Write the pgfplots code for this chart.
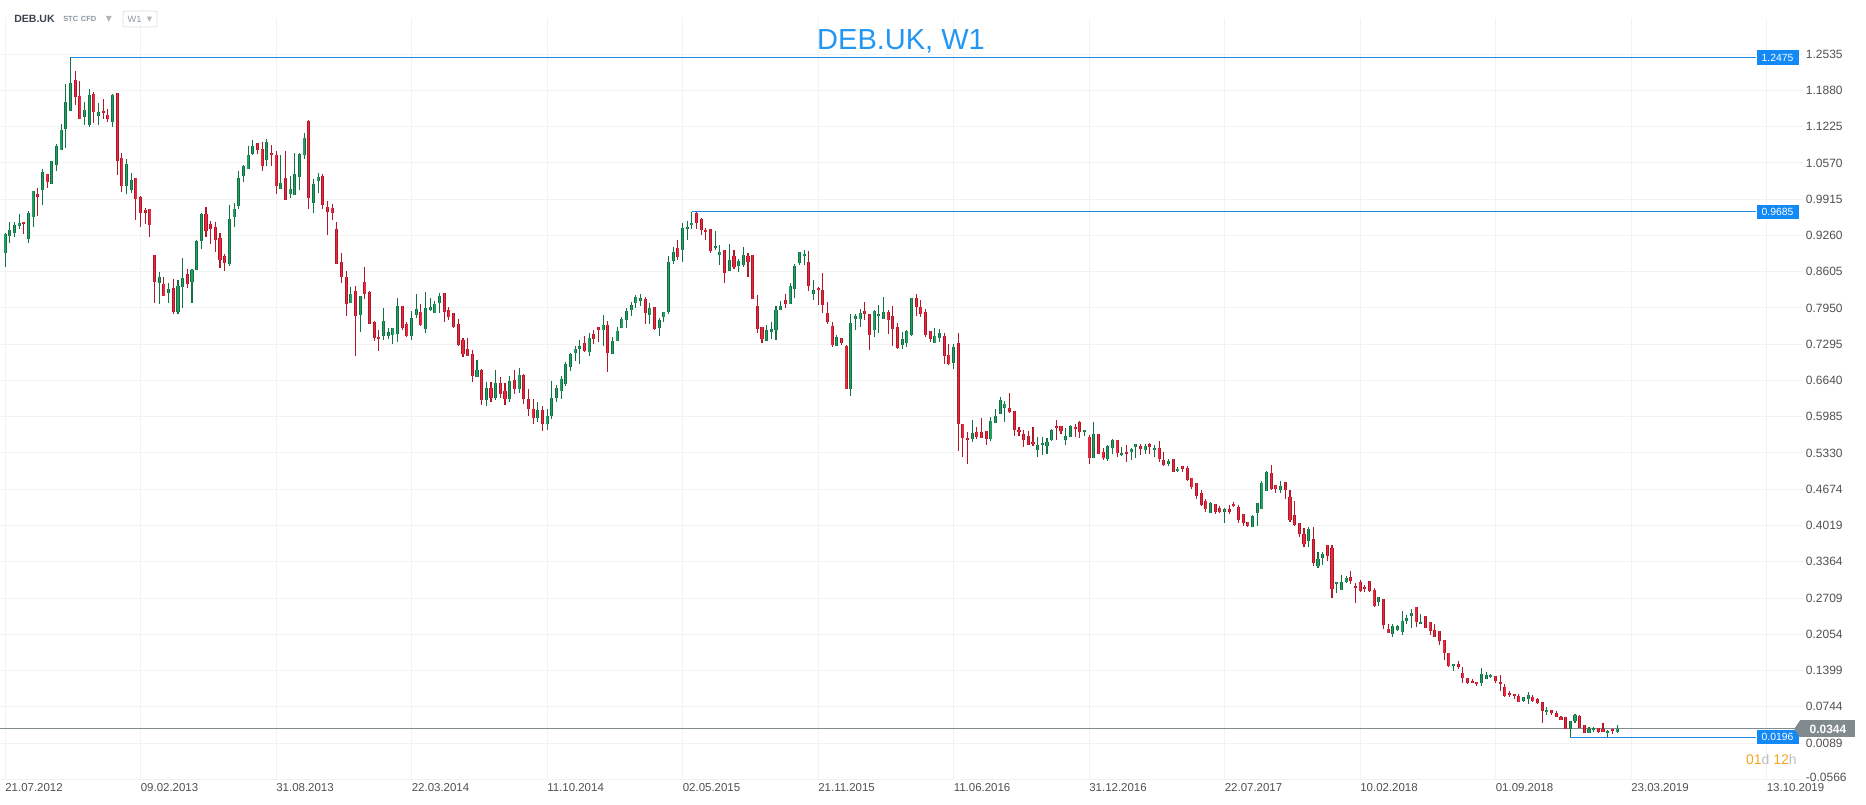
\documentclass[border=0pt]{standalone}
\usepackage{pgfplots}
\usepackage{pgfplotstable}
\pgfplotsset{compat=1.18}
\usepackage{fontspec}
\setmainfont{Liberation Sans}
\newfontfamily\dejavu{DejaVu Sans}
\definecolor{gline}{RGB}{18,112,66}
\definecolor{gfill}{RGB}{34,158,100}
\definecolor{rline}{RGB}{176,24,42}
\definecolor{rfill}{RGB}{230,42,64}
\definecolor{pblue}{RGB}{30,136,229}
\definecolor{pbox}{RGB}{18,137,245}
\definecolor{pgray}{RGB}{128,138,143}
\definecolor{gridc}{RGB}{242,242,242}
\definecolor{ticktxt}{RGB}{80,80,80}
\definecolor{titleblue}{RGB}{33,150,243}
\definecolor{hdr}{RGB}{60,68,78}
\definecolor{hdrlight}{RGB}{140,150,160}
\definecolor{tri}{RGB}{175,180,185}
\definecolor{boxc}{RGB}{222,222,222}
\definecolor{orangec}{RGB}{245,166,35}
\definecolor{lgray}{RGB}{190,190,190}

% weekly candles, w = weeks since 21.07.2012
\pgfplotstableread[row sep=\\]{
w O H L C \\
0 0.8938 0.9311 0.8697 0.9287 \\
1 0.9257 0.9504 0.9131 0.9360 \\
2 0.9311 0.9504 0.9227 0.9444 \\
3 0.9426 0.9649 0.9384 0.9486 \\
5 0.9191 0.9697 0.9131 0.9667 \\
6 0.9588 1.0058 0.9420 1.0058 \\
8 1.0076 1.0461 0.9805 1.0401 \\
10 1.0196 1.0600 1.0184 1.0600 \\
11 1.0527 1.0913 1.0431 1.0871 \\
12 1.0798 1.1274 1.0798 1.1166 \\
13 1.1178 1.2002 1.0834 1.1671 \\
14 1.1503 1.2475 1.1503 1.2008 \\
17 1.1394 1.1671 1.1250 1.1521 \\
18 1.1250 1.1906 1.1214 1.1792 \\
20 1.1412 1.1653 1.1262 1.1485 \\
23 1.1304 1.1822 1.1226 1.1798 \\
26 1.0148 1.0642 1.0004 1.0545 \\
27 1.0076 1.0389 1.0034 1.0257 \\
33 0.8397 0.8601 0.8017 0.8505 \\
35 0.8216 0.8397 0.8035 0.8288 \\
37 0.7885 0.8457 0.7837 0.8342 \\
38 0.8324 0.8848 0.7945 0.8487 \\
40 0.8415 0.8649 0.8035 0.8643 \\
41 0.8643 0.9179 0.8637 0.9155 \\
42 0.9155 0.9673 0.9010 0.9649 \\
48 0.8740 0.9811 0.8703 0.9552 \\
49 0.9588 0.9841 0.9420 0.9733 \\
50 0.9787 1.0425 0.9733 1.0293 \\
51 1.0329 1.0533 1.0220 1.0509 \\
52 1.0455 1.0877 1.0455 1.0708 \\
53 1.0726 1.0985 1.0708 1.0871 \\
56 1.0618 1.1003 1.0521 1.0943 \\
59 1.0094 1.0708 1.0094 1.0202 \\
61 1.0016 1.0329 0.9931 1.0094 \\
62 0.9986 1.0744 0.9986 1.0365 \\
63 1.0311 1.0744 1.0076 1.0726 \\
64 1.0707 1.1104 1.0635 1.1014 \\
66 0.9840 1.0274 0.9660 1.0183 \\
67 1.0237 1.0382 1.0021 1.0310 \\
74 0.8046 0.8323 0.8034 0.8197 \\
76 0.7817 0.8161 0.7510 0.8161 \\
81 0.7438 0.7944 0.7366 0.7709 \\
82 0.7438 0.7583 0.7384 0.7510 \\
83 0.7456 0.7583 0.7294 0.7583 \\
84 0.7474 0.8124 0.7330 0.7980 \\
87 0.7438 0.7890 0.7366 0.7763 \\
88 0.7817 0.8197 0.7763 0.7926 \\
90 0.7565 0.8233 0.7492 0.7944 \\
91 0.7914 0.8124 0.7902 0.7962 \\
92 0.7854 0.8070 0.7854 0.8016 \\
93 0.8034 0.8215 0.7854 0.8161 \\
101 0.6698 0.7005 0.6698 0.6824 \\
103 0.6280 0.6620 0.6180 0.6500 \\
105 0.6320 0.6820 0.6280 0.6590 \\
108 0.6300 0.6716 0.6250 0.6626 \\
110 0.6480 0.6860 0.6420 0.6734 \\
114 0.5960 0.6250 0.5880 0.6100 \\
116 0.5850 0.6120 0.5740 0.6000 \\
117 0.6000 0.6626 0.5950 0.6320 \\
118 0.6320 0.6550 0.6250 0.6500 \\
119 0.6456 0.6721 0.6312 0.6661 \\
120 0.6583 0.6974 0.6547 0.6938 \\
121 0.6890 0.7137 0.6818 0.7119 \\
122 0.7131 0.7263 0.6992 0.7203 \\
123 0.7215 0.7365 0.6944 0.7263 \\
125 0.7161 0.7492 0.7088 0.7402 \\
128 0.7546 0.7817 0.7269 0.7636 \\
130 0.7113 0.7420 0.7113 0.7347 \\
131 0.7347 0.7606 0.7347 0.7528 \\
132 0.7582 0.7781 0.7582 0.7745 \\
133 0.7727 0.7943 0.7594 0.7889 \\
134 0.7907 0.8052 0.7799 0.7997 \\
135 0.8034 0.8178 0.7943 0.8142 \\
136 0.8082 0.8196 0.7991 0.8124 \\
138 0.7817 0.8034 0.7654 0.7943 \\
140 0.7582 0.7763 0.7438 0.7727 \\
141 0.7781 0.7871 0.7691 0.7871 \\
142 0.7871 0.8888 0.7835 0.8774 \\
143 0.8792 0.9045 0.8738 0.8955 \\
145 0.8991 0.9478 0.8774 0.9388 \\
146 0.9370 0.9515 0.9171 0.9406 \\
147 0.9442 0.9685 0.9370 0.9478 \\
152 0.9027 0.9334 0.8997 0.9063 \\
153 0.8900 0.9081 0.8720 0.8955 \\
155 0.8611 0.9099 0.8611 0.8810 \\
157 0.8702 0.8828 0.8593 0.8792 \\
158 0.8720 0.9045 0.8684 0.8900 \\
163 0.7347 0.7636 0.7347 0.7546 \\
164 0.7510 0.7691 0.7383 0.7564 \\
165 0.7546 0.7979 0.7365 0.7907 \\
166 0.7907 0.8070 0.7907 0.7979 \\
168 0.8016 0.8395 0.8016 0.8341 \\
169 0.8286 0.8738 0.8124 0.8702 \\
170 0.8756 0.8955 0.8720 0.8955 \\
171 0.8882 0.8991 0.8720 0.8919 \\
173 0.8196 0.8449 0.8088 0.8268 \\
178 0.7257 0.7456 0.7257 0.7420 \\
181 0.6481 0.7835 0.6366 0.7673 \\
182 0.7745 0.7835 0.7546 0.7799 \\
183 0.7745 0.7926 0.7601 0.7853 \\
186 0.7546 0.7908 0.7420 0.7890 \\
187 0.7799 0.7998 0.7492 0.7835 \\
188 0.7745 0.8142 0.7745 0.7871 \\
192 0.7276 0.7510 0.7203 0.7384 \\
193 0.7312 0.7546 0.7239 0.7528 \\
194 0.7456 0.8124 0.7438 0.8124 \\
199 0.7312 0.7583 0.7312 0.7438 \\
200 0.7402 0.7564 0.7330 0.7492 \\
203 0.6950 0.7294 0.6842 0.7239 \\
207 0.5578 0.5921 0.5524 0.5686 \\
211 0.5578 0.5975 0.5542 0.5903 \\
212 0.5867 0.6120 0.5867 0.5993 \\
213 0.6029 0.6336 0.6029 0.6282 \\
214 0.6138 0.6264 0.5885 0.6210 \\
221 0.5379 0.5614 0.5253 0.5469 \\
222 0.5469 0.5614 0.5289 0.5506 \\
223 0.5451 0.5596 0.5307 0.5524 \\
224 0.5560 0.5758 0.5542 0.5740 \\
227 0.5560 0.5777 0.5469 0.5632 \\
228 0.5614 0.5831 0.5614 0.5813 \\
231 0.5704 0.5740 0.5632 0.5740 \\
233 0.5234 0.5884 0.5234 0.5667 \\
236 0.5216 0.5469 0.5180 0.5451 \\
237 0.5415 0.5577 0.5306 0.5559 \\
239 0.5288 0.5433 0.5270 0.5324 \\
241 0.5342 0.5415 0.5198 0.5397 \\
242 0.5433 0.5487 0.5234 0.5487 \\
244 0.5379 0.5487 0.5306 0.5451 \\
246 0.5379 0.5469 0.5252 0.5415 \\
249 0.5126 0.5216 0.5090 0.5180 \\
251 0.4999 0.5072 0.4981 0.5035 \\
258 0.4241 0.4439 0.4241 0.4421 \\
261 0.4259 0.4331 0.4060 0.4313 \\
267 0.3988 0.4205 0.3988 0.4187 \\
268 0.4241 0.4421 0.4006 0.4421 \\
269 0.4313 0.4819 0.4313 0.4783 \\
270 0.4638 0.4999 0.4638 0.4981 \\
273 0.4656 0.4819 0.4602 0.4728 \\
279 0.3734 0.3987 0.3626 0.3951 \\
281 0.3283 0.3536 0.3247 0.3409 \\
282 0.3427 0.3536 0.3301 0.3500 \\
285 0.2958 0.2994 0.2795 0.2994 \\
286 0.2849 0.3120 0.2849 0.2994 \\
287 0.2994 0.3102 0.2976 0.3066 \\
294 0.2633 0.2723 0.2560 0.2723 \\
297 0.2055 0.2235 0.2001 0.2199 \\
298 0.2127 0.2217 0.2109 0.2199 \\
299 0.2091 0.2470 0.2037 0.2289 \\
300 0.2289 0.2398 0.2235 0.2344 \\
301 0.2380 0.2506 0.2163 0.2434 \\
303 0.2235 0.2416 0.2235 0.2271 \\
310 0.1477 0.1513 0.1387 0.1513 \\
316 0.1170 0.1441 0.1116 0.1332 \\
317 0.1242 0.1368 0.1242 0.1314 \\
318 0.1278 0.1332 0.1260 0.1314 \\
325 0.0850 0.0916 0.0825 0.0916 \\
326 0.0880 0.1006 0.0789 0.0952 \\
330 0.0645 0.0735 0.0591 0.0681 \\
335 0.0338 0.0482 0.0196 0.0482 \\
336 0.0482 0.0609 0.0446 0.0591 \\
339 0.0266 0.0374 0.0266 0.0338 \\
340 0.0320 0.0386 0.0296 0.0356 \\
343 0.0278 0.0332 0.0200 0.0314 \\
345 0.0296 0.0416 0.0278 0.0344 \\
}\up

\pgfplotstableread[row sep=\\]{
w O H L C \\
4 0.9504 0.9504 0.9287 0.9462 \\
7 1.0010 1.0118 0.9618 0.9950 \\
9 1.0365 1.0365 1.0124 1.0232 \\
15 1.2063 1.2231 1.1611 1.1756 \\
16 1.1774 1.2051 1.1358 1.1358 \\
19 1.1810 1.1846 1.1286 1.1485 \\
21 1.1509 1.1719 1.1358 1.1467 \\
22 1.1430 1.1545 1.1304 1.1358 \\
24 1.1828 1.1828 1.0359 1.0612 \\
25 1.0654 1.0744 1.0052 1.0148 \\
28 1.0293 1.0293 0.9546 0.9926 \\
29 0.9956 0.9974 0.9420 0.9661 \\
30 0.9715 0.9757 0.9474 0.9661 \\
31 0.9733 0.9733 0.9239 0.9444 \\
32 0.8902 0.8902 0.8035 0.8415 \\
34 0.8379 0.8505 0.8162 0.8162 \\
36 0.8306 0.8481 0.7837 0.7885 \\
39 0.8559 0.8649 0.8306 0.8379 \\
43 0.9649 0.9781 0.9239 0.9335 \\
44 0.9468 0.9522 0.9101 0.9384 \\
45 0.9408 0.9504 0.8968 0.9173 \\
46 0.9215 0.9299 0.8679 0.8812 \\
47 0.8884 0.8926 0.8613 0.8758 \\
54 1.0925 1.0925 1.0726 1.0798 \\
55 1.0816 1.0949 1.0431 1.0521 \\
57 1.0744 1.0889 1.0521 1.0708 \\
58 1.0708 1.0786 1.0016 1.0148 \\
60 1.0293 1.0786 0.9895 0.9895 \\
65 1.1327 1.1339 0.9732 0.9931 \\
68 1.0328 1.0364 0.9732 0.9804 \\
69 0.9768 0.9876 0.9274 0.9678 \\
70 0.9756 0.9822 0.9545 0.9660 \\
71 0.9371 0.9497 0.8739 0.8751 \\
72 0.8775 0.8937 0.8407 0.8504 \\
73 0.8504 0.8612 0.7811 0.8016 \\
75 0.8251 0.8341 0.7089 0.7799 \\
77 0.8413 0.8684 0.8107 0.8197 \\
78 0.8233 0.8251 0.7655 0.7655 \\
79 0.7691 0.7709 0.7348 0.7402 \\
80 0.7420 0.7547 0.7167 0.7384 \\
85 0.7980 0.7980 0.7547 0.7583 \\
86 0.7655 0.7691 0.7420 0.7438 \\
89 0.7872 0.8016 0.7619 0.7637 \\
94 0.8215 0.8215 0.7691 0.7872 \\
95 0.7908 0.7962 0.7727 0.7781 \\
96 0.7854 0.7854 0.7583 0.7601 \\
97 0.7655 0.7745 0.7270 0.7282 \\
98 0.7372 0.7402 0.7059 0.7113 \\
99 0.7203 0.7402 0.7077 0.7077 \\
100 0.7113 0.7185 0.6620 0.6716 \\
102 0.6824 0.6850 0.6200 0.6280 \\
104 0.6500 0.6610 0.6250 0.6320 \\
106 0.6590 0.6700 0.6320 0.6400 \\
107 0.6450 0.6590 0.6200 0.6300 \\
109 0.6640 0.6820 0.6400 0.6480 \\
111 0.6734 0.6760 0.6220 0.6300 \\
112 0.6300 0.6480 0.6000 0.6120 \\
113 0.6120 0.6300 0.5850 0.5960 \\
115 0.6100 0.6180 0.5720 0.5850 \\
124 0.7311 0.7444 0.7155 0.7179 \\
126 0.7474 0.7552 0.7305 0.7396 \\
127 0.7600 0.7600 0.7341 0.7546 \\
129 0.7636 0.7709 0.6800 0.7143 \\
137 0.8106 0.8142 0.7654 0.7853 \\
139 0.7961 0.7961 0.7546 0.7564 \\
144 0.9027 0.9171 0.8810 0.8864 \\
148 0.9659 0.9677 0.9370 0.9478 \\
149 0.9551 0.9569 0.9262 0.9352 \\
150 0.9352 0.9388 0.9171 0.9316 \\
151 0.9370 0.9370 0.8937 0.8973 \\
154 0.8991 0.8991 0.8395 0.8575 \\
156 0.8882 0.8991 0.8648 0.8684 \\
159 0.8882 0.8937 0.8503 0.8774 \\
160 0.8900 0.8900 0.8106 0.8106 \\
161 0.7979 0.8178 0.7492 0.7564 \\
162 0.7600 0.7600 0.7311 0.7383 \\
167 0.8088 0.8196 0.7943 0.8016 \\
172 0.8774 0.8973 0.8250 0.8341 \\
174 0.8304 0.8323 0.7997 0.8268 \\
175 0.8269 0.8576 0.7853 0.7998 \\
176 0.7853 0.8052 0.7655 0.7691 \\
177 0.7619 0.7691 0.7239 0.7276 \\
179 0.7402 0.7402 0.7276 0.7312 \\
180 0.7257 0.7276 0.6481 0.6481 \\
184 0.7890 0.8052 0.7727 0.7835 \\
185 0.7835 0.7835 0.7185 0.7456 \\
189 0.7871 0.7908 0.7474 0.7727 \\
190 0.7799 0.7980 0.7257 0.7564 \\
191 0.7601 0.7673 0.7203 0.7221 \\
195 0.8124 0.8197 0.7799 0.7962 \\
196 0.7962 0.8088 0.7781 0.7835 \\
197 0.7871 0.7926 0.7420 0.7456 \\
198 0.7528 0.7528 0.7330 0.7384 \\
201 0.7438 0.7492 0.6932 0.7077 \\
202 0.7095 0.7294 0.6914 0.6932 \\
204 0.7312 0.7492 0.5361 0.5849 \\
205 0.5849 0.5849 0.5253 0.5596 \\
206 0.5596 0.5704 0.5126 0.5560 \\
208 0.5704 0.5795 0.5578 0.5614 \\
209 0.5704 0.5957 0.5596 0.5596 \\
210 0.5722 0.5722 0.5469 0.5578 \\
215 0.6138 0.6409 0.6047 0.6066 \\
216 0.6084 0.6084 0.5632 0.5740 \\
217 0.5740 0.5795 0.5632 0.5704 \\
218 0.5668 0.5740 0.5433 0.5560 \\
219 0.5632 0.5722 0.5469 0.5469 \\
220 0.5524 0.5795 0.5451 0.5488 \\
225 0.5813 0.5921 0.5560 0.5777 \\
226 0.5813 0.5813 0.5668 0.5722 \\
229 0.5795 0.5849 0.5614 0.5758 \\
230 0.5885 0.5903 0.5596 0.5704 \\
232 0.5613 0.5649 0.5126 0.5234 \\
234 0.5667 0.5667 0.5306 0.5306 \\
235 0.5342 0.5415 0.5198 0.5234 \\
238 0.5559 0.5559 0.5252 0.5324 \\
240 0.5342 0.5469 0.5162 0.5306 \\
243 0.5451 0.5487 0.5288 0.5397 \\
245 0.5487 0.5505 0.5306 0.5433 \\
247 0.5415 0.5541 0.5162 0.5216 \\
248 0.5198 0.5342 0.5090 0.5108 \\
250 0.5216 0.5216 0.4981 0.4981 \\
252 0.5090 0.5090 0.4981 0.5035 \\
253 0.5054 0.5090 0.4819 0.4837 \\
254 0.4873 0.4873 0.4674 0.4710 \\
255 0.4783 0.4783 0.4494 0.4548 \\
256 0.4602 0.4656 0.4367 0.4385 \\
257 0.4458 0.4494 0.4259 0.4313 \\
259 0.4403 0.4403 0.4223 0.4259 \\
260 0.4331 0.4367 0.4241 0.4259 \\
262 0.4313 0.4385 0.4223 0.4259 \\
263 0.4403 0.4439 0.4349 0.4367 \\
264 0.4349 0.4385 0.4060 0.4114 \\
265 0.4223 0.4223 0.4006 0.4060 \\
266 0.4078 0.4078 0.3988 0.4006 \\
271 0.4963 0.5108 0.4656 0.4674 \\
272 0.4746 0.4746 0.4602 0.4674 \\
274 0.4801 0.4801 0.4494 0.4656 \\
275 0.4530 0.4656 0.4078 0.4114 \\
276 0.4205 0.4458 0.4006 0.4024 \\
277 0.4060 0.4060 0.3807 0.3862 \\
278 0.3867 0.3969 0.3626 0.3680 \\
280 0.3770 0.3987 0.3283 0.3337 \\
283 0.3662 0.3662 0.3373 0.3463 \\
284 0.3608 0.3662 0.2705 0.2879 \\
288 0.3084 0.3193 0.2958 0.3012 \\
289 0.2922 0.2976 0.2615 0.2886 \\
290 0.2994 0.3030 0.2813 0.2831 \\
291 0.2904 0.2940 0.2813 0.2867 \\
292 0.3012 0.3012 0.2813 0.2831 \\
293 0.2849 0.2886 0.2542 0.2560 \\
295 0.2687 0.2687 0.2145 0.2217 \\
296 0.2145 0.2235 0.2073 0.2073 \\
302 0.2542 0.2542 0.2181 0.2271 \\
304 0.2380 0.2380 0.2163 0.2163 \\
305 0.2271 0.2271 0.2037 0.2109 \\
306 0.2127 0.2235 0.2001 0.2001 \\
307 0.2109 0.2109 0.1856 0.1928 \\
308 0.1946 0.1946 0.1585 0.1712 \\
309 0.1712 0.1712 0.1459 0.1477 \\
311 0.1513 0.1567 0.1423 0.1459 \\
312 0.1350 0.1459 0.1170 0.1260 \\
313 0.1260 0.1260 0.1152 0.1170 \\
314 0.1206 0.1242 0.1170 0.1170 \\
315 0.1188 0.1188 0.1116 0.1152 \\
319 0.1296 0.1296 0.1170 0.1206 \\
320 0.1188 0.1314 0.1025 0.1152 \\
321 0.1096 0.1150 0.0922 0.0934 \\
322 0.0988 0.1024 0.0922 0.0952 \\
323 0.0970 0.0970 0.0892 0.0934 \\
324 0.0934 0.0970 0.0825 0.0825 \\
327 0.0916 0.0952 0.0825 0.0844 \\
328 0.0880 0.0898 0.0789 0.0807 \\
329 0.0825 0.0825 0.0458 0.0663 \\
331 0.0681 0.0681 0.0591 0.0627 \\
332 0.0627 0.0663 0.0555 0.0555 \\
333 0.0555 0.0573 0.0500 0.0500 \\
334 0.0555 0.0567 0.0350 0.0350 \\
337 0.0579 0.0591 0.0368 0.0368 \\
338 0.0410 0.0410 0.0278 0.0278 \\
341 0.0356 0.0356 0.0266 0.0296 \\
342 0.0338 0.0452 0.0296 0.0296 \\
344 0.0338 0.0350 0.0248 0.0308 \\
}\down

\begin{document}
\begin{tikzpicture}
\path[use as bounding box] (0,-19.275pt) rectangle (1399.5pt,584.475pt);
\begin{axis}[
  at={(0,0)}, anchor=south west, scale only axis,
  width=1352.25pt, height=570.98pt,
  xmin=-1.09, xmax=384.8, ymin=-0.0566, ymax=1.3188,
  clip=false,
  axis line style={draw=none},
  major tick length=0pt,
  tick style={draw=none},
  grid=major,
  major grid style={draw=gridc, line width=0.75pt},
  xtick={0,29,58,87,116,145,174,203,232,261,290,319,348,377},
  xticklabels={21.07.2012,09.02.2013,31.08.2013,22.03.2014,11.10.2014,02.05.2015,21.11.2015,11.06.2016,31.12.2016,22.07.2017,10.02.2018,01.09.2018,23.03.2019,13.10.2019},
  ytick={-0.0566,0.0089,0.0744,0.1399,0.2054,0.2709,0.3364,0.4019,0.4674,0.5330,0.5985,0.6640,0.7295,0.7950,0.8605,0.9260,0.9915,1.0570,1.1225,1.1880,1.2535},
  yticklabels={\raisebox{3pt}{-0.0566},0.0089,0.0744,0.1399,0.2054,0.2709,0.3364,0.4019,0.4674,0.5330,0.5985,0.6640,0.7295,0.7950,0.8605,0.9260,0.9915,1.0570,1.1225,1.1880,1.2535},
  yticklabel pos=right,
  xticklabel style={anchor=north west, inner sep=0pt, yshift=-3pt, font=\fontsize{8.6pt}{9pt}\selectfont, text=ticktxt},
  yticklabel style={anchor=west, inner sep=0pt, xshift=2pt, font=\fontsize{9pt}{10pt}\selectfont, text=ticktxt},
]
% current price line
\addplot[pgray, line width=0.8pt, mark=none] coordinates {(-1.09,0.0344) (384.2,0.0344)};
% level lines
\addplot[pblue, line width=0.9pt, mark=none] coordinates {(14,1.2475) (374.8,1.2475)};
\addplot[pblue, line width=0.9pt, mark=none] coordinates {(147,0.9685) (374.8,0.9685)};
\addplot[pblue, line width=0.9pt, mark=none] coordinates {(335,0.0196) (374.8,0.0196)};
% wicks
\addplot[draw=none, mark=none, error bars/.cd, y dir=minus, y explicit, error mark=none,
  error bar style={draw=gline, line width=0.8pt}]
  table[x=w, y=H, y error minus expr=\thisrow{H}-\thisrow{L}] {\up};
\addplot[draw=none, mark=none, error bars/.cd, y dir=minus, y explicit, error mark=none,
  error bar style={draw=rline, line width=0.8pt}]
  table[x=w, y=H, y error minus expr=\thisrow{H}-\thisrow{L}] {\down};
% bodies
\addplot[draw=none, mark=none, error bars/.cd, y dir=minus, y explicit, error mark=none,
  error bar style={draw=gline, line width=2.3pt}]
  table[x=w, y=C, y error minus expr=\thisrow{C}-\thisrow{O}] {\up};
\addplot[draw=none, mark=none, error bars/.cd, y dir=minus, y explicit, error mark=none,
  error bar style={draw=gfill, line width=1.0pt}]
  table[x=w, y=C, y error minus expr=\thisrow{C}-\thisrow{O}] {\up};
\addplot[draw=none, mark=none, error bars/.cd, y dir=minus, y explicit, error mark=none,
  error bar style={draw=rline, line width=2.3pt}]
  table[x=w, y=O, y error minus expr=\thisrow{O}-\thisrow{C}] {\down};
\addplot[draw=none, mark=none, error bars/.cd, y dir=minus, y explicit, error mark=none,
  error bar style={draw=rfill, line width=1.0pt}]
  table[x=w, y=O, y error minus expr=\thisrow{O}-\thisrow{C}] {\down};
% price boxes
\node[fill=pbox, text=white, font=\fontsize{7.8pt}{8pt}\selectfont, minimum width=31.5pt, minimum height=11pt, inner sep=0pt, anchor=west] at (axis cs:374.8,1.2475) {1.2475};
\node[fill=pbox, text=white, font=\fontsize{7.8pt}{8pt}\selectfont, minimum width=31.5pt, minimum height=11pt, inner sep=0pt, anchor=west] at (axis cs:374.8,0.9685) {0.9685};
\node[fill=pbox, text=white, font=\fontsize{7.8pt}{8pt}\selectfont, minimum width=31.5pt, minimum height=11pt, inner sep=0pt, anchor=west] at (axis cs:374.8,0.0196) {0.0196};
\node[fill=pgray, text=white, font=\bfseries\fontsize{9pt}{10pt}\selectfont, minimum width=41.25pt, minimum height=12.75pt, inner sep=0pt, anchor=west] (cp) at (axis cs:384.2,0.0344) {0.0344};
\fill[pgray] (cp.north west) -- ([xshift=-4.5pt]cp.west) -- (cp.south west) -- cycle;
\end{axis}
% title and header
\node[font=\fontsize{21.75pt}{24pt}\selectfont, text=titleblue] at (675.75pt,553.2pt) {DEB.UK, W1};
\node[anchor=west, inner sep=0pt, font=\bfseries\fontsize{7.9pt}{9pt}\selectfont, text=hdr] at (10.5pt,570.2pt) {DEB.UK};
\node[anchor=west, inner sep=0pt, font=\bfseries\fontsize{5.6pt}{7pt}\selectfont, text=hdrlight] at (47.25pt,570.2pt) {STC\hspace{2pt}CFD};
\node[inner sep=0pt, font=\dejavu\fontsize{9pt}{10pt}\selectfont, text=tri] at (81.6pt,569.6pt) {▾};
\draw[boxc, line width=0.6pt, rounded corners=1.5pt] (92.25pt,564.2pt) rectangle (117.75pt,576.2pt);
\node[anchor=west, inner sep=0pt, font=\fontsize{6.9pt}{8pt}\selectfont, text=hdrlight] at (95.6pt,570.2pt) {W1};
\node[inner sep=0pt, font=\dejavu\fontsize{8pt}{9pt}\selectfont, text=tri] at (112.2pt,569.7pt) {▾};
\node[anchor=east, inner sep=0pt, font=\fontsize{10.5pt}{11pt}\selectfont] at (1347.75pt,14.5pt) {\textcolor{orangec}{01}\textcolor{lgray}{d}\hspace{3pt}\textcolor{orangec}{12}\textcolor{lgray}{h}};
\end{tikzpicture}
\end{document}
